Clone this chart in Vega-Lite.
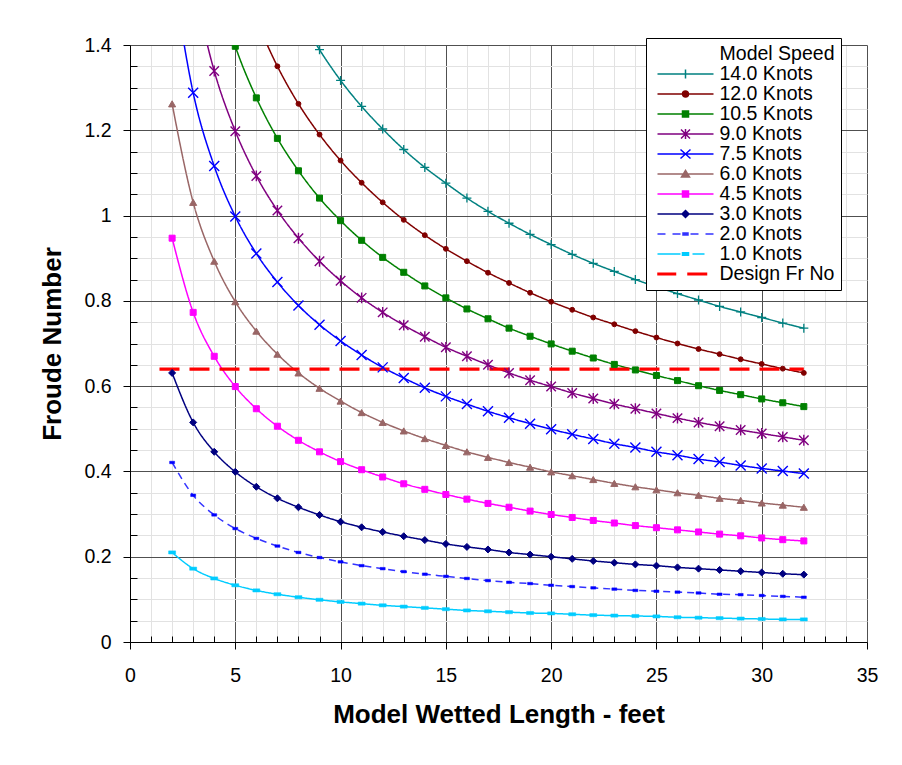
{
"$schema": "https://vega.github.io/schema/vega-lite/v6.json",
"width": 737, "height": 597,
"autosize": {"type": "none"},
"padding": {"left": 130, "top": 45, "right": 35, "bottom": 123},
"background": "white",
"data": {"values": [
{"s":"14.0 Knots","L":8,"fr":1.473},{"s":"14.0 Knots","L":9,"fr":1.389},{"s":"14.0 Knots","L":10,"fr":1.317},{"s":"14.0 Knots","L":11,"fr":1.256},{"s":"14.0 Knots","L":12,"fr":1.203},{"s":"14.0 Knots","L":13,"fr":1.155},{"s":"14.0 Knots","L":14,"fr":1.113},{"s":"14.0 Knots","L":15,"fr":1.076},{"s":"14.0 Knots","L":16,"fr":1.041},{"s":"14.0 Knots","L":17,"fr":1.010},{"s":"14.0 Knots","L":18,"fr":0.982},{"s":"14.0 Knots","L":19,"fr":0.956},{"s":"14.0 Knots","L":20,"fr":0.932},{"s":"14.0 Knots","L":21,"fr":0.909},{"s":"14.0 Knots","L":22,"fr":0.888},{"s":"14.0 Knots","L":23,"fr":0.869},{"s":"14.0 Knots","L":24,"fr":0.850},{"s":"14.0 Knots","L":25,"fr":0.833},{"s":"14.0 Knots","L":26,"fr":0.817},{"s":"14.0 Knots","L":27,"fr":0.802},{"s":"14.0 Knots","L":28,"fr":0.787},{"s":"14.0 Knots","L":29,"fr":0.774},{"s":"14.0 Knots","L":30,"fr":0.761},{"s":"14.0 Knots","L":31,"fr":0.748},{"s":"14.0 Knots","L":32,"fr":0.736},
{"s":"12.0 Knots","L":6,"fr":1.458},{"s":"12.0 Knots","L":7,"fr":1.350},{"s":"12.0 Knots","L":8,"fr":1.262},{"s":"12.0 Knots","L":9,"fr":1.190},{"s":"12.0 Knots","L":10,"fr":1.129},{"s":"12.0 Knots","L":11,"fr":1.077},{"s":"12.0 Knots","L":12,"fr":1.031},{"s":"12.0 Knots","L":13,"fr":0.990},{"s":"12.0 Knots","L":14,"fr":0.954},{"s":"12.0 Knots","L":15,"fr":0.922},{"s":"12.0 Knots","L":16,"fr":0.893},{"s":"12.0 Knots","L":17,"fr":0.866},{"s":"12.0 Knots","L":18,"fr":0.842},{"s":"12.0 Knots","L":19,"fr":0.819},{"s":"12.0 Knots","L":20,"fr":0.798},{"s":"12.0 Knots","L":21,"fr":0.779},{"s":"12.0 Knots","L":22,"fr":0.761},{"s":"12.0 Knots","L":23,"fr":0.745},{"s":"12.0 Knots","L":24,"fr":0.729},{"s":"12.0 Knots","L":25,"fr":0.714},{"s":"12.0 Knots","L":26,"fr":0.700},{"s":"12.0 Knots","L":27,"fr":0.687},{"s":"12.0 Knots","L":28,"fr":0.675},{"s":"12.0 Knots","L":29,"fr":0.663},{"s":"12.0 Knots","L":30,"fr":0.652},{"s":"12.0 Knots","L":31,"fr":0.641},{"s":"12.0 Knots","L":32,"fr":0.631},
{"s":"10.5 Knots","L":4,"fr":1.562},{"s":"10.5 Knots","L":5,"fr":1.397},{"s":"10.5 Knots","L":6,"fr":1.276},{"s":"10.5 Knots","L":7,"fr":1.181},{"s":"10.5 Knots","L":8,"fr":1.105},{"s":"10.5 Knots","L":9,"fr":1.041},{"s":"10.5 Knots","L":10,"fr":0.988},{"s":"10.5 Knots","L":11,"fr":0.942},{"s":"10.5 Knots","L":12,"fr":0.902},{"s":"10.5 Knots","L":13,"fr":0.867},{"s":"10.5 Knots","L":14,"fr":0.835},{"s":"10.5 Knots","L":15,"fr":0.807},{"s":"10.5 Knots","L":16,"fr":0.781},{"s":"10.5 Knots","L":17,"fr":0.758},{"s":"10.5 Knots","L":18,"fr":0.736},{"s":"10.5 Knots","L":19,"fr":0.717},{"s":"10.5 Knots","L":20,"fr":0.699},{"s":"10.5 Knots","L":21,"fr":0.682},{"s":"10.5 Knots","L":22,"fr":0.666},{"s":"10.5 Knots","L":23,"fr":0.651},{"s":"10.5 Knots","L":24,"fr":0.638},{"s":"10.5 Knots","L":25,"fr":0.625},{"s":"10.5 Knots","L":26,"fr":0.613},{"s":"10.5 Knots","L":27,"fr":0.601},{"s":"10.5 Knots","L":28,"fr":0.590},{"s":"10.5 Knots","L":29,"fr":0.580},{"s":"10.5 Knots","L":30,"fr":0.570},{"s":"10.5 Knots","L":31,"fr":0.561},{"s":"10.5 Knots","L":32,"fr":0.552},
{"s":"9.0 Knots","L":3,"fr":1.546},{"s":"9.0 Knots","L":4,"fr":1.339},{"s":"9.0 Knots","L":5,"fr":1.198},{"s":"9.0 Knots","L":6,"fr":1.093},{"s":"9.0 Knots","L":7,"fr":1.012},{"s":"9.0 Knots","L":8,"fr":0.947},{"s":"9.0 Knots","L":9,"fr":0.893},{"s":"9.0 Knots","L":10,"fr":0.847},{"s":"9.0 Knots","L":11,"fr":0.807},{"s":"9.0 Knots","L":12,"fr":0.773},{"s":"9.0 Knots","L":13,"fr":0.743},{"s":"9.0 Knots","L":14,"fr":0.716},{"s":"9.0 Knots","L":15,"fr":0.691},{"s":"9.0 Knots","L":16,"fr":0.670},{"s":"9.0 Knots","L":17,"fr":0.650},{"s":"9.0 Knots","L":18,"fr":0.631},{"s":"9.0 Knots","L":19,"fr":0.614},{"s":"9.0 Knots","L":20,"fr":0.599},{"s":"9.0 Knots","L":21,"fr":0.584},{"s":"9.0 Knots","L":22,"fr":0.571},{"s":"9.0 Knots","L":23,"fr":0.558},{"s":"9.0 Knots","L":24,"fr":0.547},{"s":"9.0 Knots","L":25,"fr":0.536},{"s":"9.0 Knots","L":26,"fr":0.525},{"s":"9.0 Knots","L":27,"fr":0.515},{"s":"9.0 Knots","L":28,"fr":0.506},{"s":"9.0 Knots","L":29,"fr":0.497},{"s":"9.0 Knots","L":30,"fr":0.489},{"s":"9.0 Knots","L":31,"fr":0.481},{"s":"9.0 Knots","L":32,"fr":0.473},
{"s":"7.5 Knots","L":2,"fr":1.578},{"s":"7.5 Knots","L":3,"fr":1.288},{"s":"7.5 Knots","L":4,"fr":1.116},{"s":"7.5 Knots","L":5,"fr":0.998},{"s":"7.5 Knots","L":6,"fr":0.911},{"s":"7.5 Knots","L":7,"fr":0.844},{"s":"7.5 Knots","L":8,"fr":0.789},{"s":"7.5 Knots","L":9,"fr":0.744},{"s":"7.5 Knots","L":10,"fr":0.706},{"s":"7.5 Knots","L":11,"fr":0.673},{"s":"7.5 Knots","L":12,"fr":0.644},{"s":"7.5 Knots","L":13,"fr":0.619},{"s":"7.5 Knots","L":14,"fr":0.596},{"s":"7.5 Knots","L":15,"fr":0.576},{"s":"7.5 Knots","L":16,"fr":0.558},{"s":"7.5 Knots","L":17,"fr":0.541},{"s":"7.5 Knots","L":18,"fr":0.526},{"s":"7.5 Knots","L":19,"fr":0.512},{"s":"7.5 Knots","L":20,"fr":0.499},{"s":"7.5 Knots","L":21,"fr":0.487},{"s":"7.5 Knots","L":22,"fr":0.476},{"s":"7.5 Knots","L":23,"fr":0.465},{"s":"7.5 Knots","L":24,"fr":0.456},{"s":"7.5 Knots","L":25,"fr":0.446},{"s":"7.5 Knots","L":26,"fr":0.438},{"s":"7.5 Knots","L":27,"fr":0.429},{"s":"7.5 Knots","L":28,"fr":0.422},{"s":"7.5 Knots","L":29,"fr":0.414},{"s":"7.5 Knots","L":30,"fr":0.407},{"s":"7.5 Knots","L":31,"fr":0.401},{"s":"7.5 Knots","L":32,"fr":0.395},
{"s":"6.0 Knots","L":2,"fr":1.262},{"s":"6.0 Knots","L":3,"fr":1.031},{"s":"6.0 Knots","L":4,"fr":0.893},{"s":"6.0 Knots","L":5,"fr":0.798},{"s":"6.0 Knots","L":6,"fr":0.729},{"s":"6.0 Knots","L":7,"fr":0.675},{"s":"6.0 Knots","L":8,"fr":0.631},{"s":"6.0 Knots","L":9,"fr":0.595},{"s":"6.0 Knots","L":10,"fr":0.565},{"s":"6.0 Knots","L":11,"fr":0.538},{"s":"6.0 Knots","L":12,"fr":0.515},{"s":"6.0 Knots","L":13,"fr":0.495},{"s":"6.0 Knots","L":14,"fr":0.477},{"s":"6.0 Knots","L":15,"fr":0.461},{"s":"6.0 Knots","L":16,"fr":0.446},{"s":"6.0 Knots","L":17,"fr":0.433},{"s":"6.0 Knots","L":18,"fr":0.421},{"s":"6.0 Knots","L":19,"fr":0.410},{"s":"6.0 Knots","L":20,"fr":0.399},{"s":"6.0 Knots","L":21,"fr":0.390},{"s":"6.0 Knots","L":22,"fr":0.381},{"s":"6.0 Knots","L":23,"fr":0.372},{"s":"6.0 Knots","L":24,"fr":0.364},{"s":"6.0 Knots","L":25,"fr":0.357},{"s":"6.0 Knots","L":26,"fr":0.350},{"s":"6.0 Knots","L":27,"fr":0.344},{"s":"6.0 Knots","L":28,"fr":0.337},{"s":"6.0 Knots","L":29,"fr":0.332},{"s":"6.0 Knots","L":30,"fr":0.326},{"s":"6.0 Knots","L":31,"fr":0.321},{"s":"6.0 Knots","L":32,"fr":0.316},
{"s":"4.5 Knots","L":2,"fr":0.947},{"s":"4.5 Knots","L":3,"fr":0.773},{"s":"4.5 Knots","L":4,"fr":0.670},{"s":"4.5 Knots","L":5,"fr":0.599},{"s":"4.5 Knots","L":6,"fr":0.547},{"s":"4.5 Knots","L":7,"fr":0.506},{"s":"4.5 Knots","L":8,"fr":0.473},{"s":"4.5 Knots","L":9,"fr":0.446},{"s":"4.5 Knots","L":10,"fr":0.423},{"s":"4.5 Knots","L":11,"fr":0.404},{"s":"4.5 Knots","L":12,"fr":0.387},{"s":"4.5 Knots","L":13,"fr":0.371},{"s":"4.5 Knots","L":14,"fr":0.358},{"s":"4.5 Knots","L":15,"fr":0.346},{"s":"4.5 Knots","L":16,"fr":0.335},{"s":"4.5 Knots","L":17,"fr":0.325},{"s":"4.5 Knots","L":18,"fr":0.316},{"s":"4.5 Knots","L":19,"fr":0.307},{"s":"4.5 Knots","L":20,"fr":0.299},{"s":"4.5 Knots","L":21,"fr":0.292},{"s":"4.5 Knots","L":22,"fr":0.285},{"s":"4.5 Knots","L":23,"fr":0.279},{"s":"4.5 Knots","L":24,"fr":0.273},{"s":"4.5 Knots","L":25,"fr":0.268},{"s":"4.5 Knots","L":26,"fr":0.263},{"s":"4.5 Knots","L":27,"fr":0.258},{"s":"4.5 Knots","L":28,"fr":0.253},{"s":"4.5 Knots","L":29,"fr":0.249},{"s":"4.5 Knots","L":30,"fr":0.244},{"s":"4.5 Knots","L":31,"fr":0.240},{"s":"4.5 Knots","L":32,"fr":0.237},
{"s":"3.0 Knots","L":2,"fr":0.631},{"s":"3.0 Knots","L":3,"fr":0.515},{"s":"3.0 Knots","L":4,"fr":0.446},{"s":"3.0 Knots","L":5,"fr":0.399},{"s":"3.0 Knots","L":6,"fr":0.364},{"s":"3.0 Knots","L":7,"fr":0.337},{"s":"3.0 Knots","L":8,"fr":0.316},{"s":"3.0 Knots","L":9,"fr":0.298},{"s":"3.0 Knots","L":10,"fr":0.282},{"s":"3.0 Knots","L":11,"fr":0.269},{"s":"3.0 Knots","L":12,"fr":0.258},{"s":"3.0 Knots","L":13,"fr":0.248},{"s":"3.0 Knots","L":14,"fr":0.239},{"s":"3.0 Knots","L":15,"fr":0.230},{"s":"3.0 Knots","L":16,"fr":0.223},{"s":"3.0 Knots","L":17,"fr":0.217},{"s":"3.0 Knots","L":18,"fr":0.210},{"s":"3.0 Knots","L":19,"fr":0.205},{"s":"3.0 Knots","L":20,"fr":0.200},{"s":"3.0 Knots","L":21,"fr":0.195},{"s":"3.0 Knots","L":22,"fr":0.190},{"s":"3.0 Knots","L":23,"fr":0.186},{"s":"3.0 Knots","L":24,"fr":0.182},{"s":"3.0 Knots","L":25,"fr":0.179},{"s":"3.0 Knots","L":26,"fr":0.175},{"s":"3.0 Knots","L":27,"fr":0.172},{"s":"3.0 Knots","L":28,"fr":0.169},{"s":"3.0 Knots","L":29,"fr":0.166},{"s":"3.0 Knots","L":30,"fr":0.163},{"s":"3.0 Knots","L":31,"fr":0.160},{"s":"3.0 Knots","L":32,"fr":0.158},
{"s":"2.0 Knots","L":2,"fr":0.421},{"s":"2.0 Knots","L":3,"fr":0.344},{"s":"2.0 Knots","L":4,"fr":0.298},{"s":"2.0 Knots","L":5,"fr":0.266},{"s":"2.0 Knots","L":6,"fr":0.243},{"s":"2.0 Knots","L":7,"fr":0.225},{"s":"2.0 Knots","L":8,"fr":0.210},{"s":"2.0 Knots","L":9,"fr":0.198},{"s":"2.0 Knots","L":10,"fr":0.188},{"s":"2.0 Knots","L":11,"fr":0.179},{"s":"2.0 Knots","L":12,"fr":0.172},{"s":"2.0 Knots","L":13,"fr":0.165},{"s":"2.0 Knots","L":14,"fr":0.159},{"s":"2.0 Knots","L":15,"fr":0.154},{"s":"2.0 Knots","L":16,"fr":0.149},{"s":"2.0 Knots","L":17,"fr":0.144},{"s":"2.0 Knots","L":18,"fr":0.140},{"s":"2.0 Knots","L":19,"fr":0.137},{"s":"2.0 Knots","L":20,"fr":0.133},{"s":"2.0 Knots","L":21,"fr":0.130},{"s":"2.0 Knots","L":22,"fr":0.127},{"s":"2.0 Knots","L":23,"fr":0.124},{"s":"2.0 Knots","L":24,"fr":0.121},{"s":"2.0 Knots","L":25,"fr":0.119},{"s":"2.0 Knots","L":26,"fr":0.117},{"s":"2.0 Knots","L":27,"fr":0.115},{"s":"2.0 Knots","L":28,"fr":0.112},{"s":"2.0 Knots","L":29,"fr":0.111},{"s":"2.0 Knots","L":30,"fr":0.109},{"s":"2.0 Knots","L":31,"fr":0.107},{"s":"2.0 Knots","L":32,"fr":0.105},
{"s":"1.0 Knots","L":2,"fr":0.210},{"s":"1.0 Knots","L":3,"fr":0.172},{"s":"1.0 Knots","L":4,"fr":0.149},{"s":"1.0 Knots","L":5,"fr":0.133},{"s":"1.0 Knots","L":6,"fr":0.121},{"s":"1.0 Knots","L":7,"fr":0.112},{"s":"1.0 Knots","L":8,"fr":0.105},{"s":"1.0 Knots","L":9,"fr":0.099},{"s":"1.0 Knots","L":10,"fr":0.094},{"s":"1.0 Knots","L":11,"fr":0.090},{"s":"1.0 Knots","L":12,"fr":0.086},{"s":"1.0 Knots","L":13,"fr":0.083},{"s":"1.0 Knots","L":14,"fr":0.080},{"s":"1.0 Knots","L":15,"fr":0.077},{"s":"1.0 Knots","L":16,"fr":0.074},{"s":"1.0 Knots","L":17,"fr":0.072},{"s":"1.0 Knots","L":18,"fr":0.070},{"s":"1.0 Knots","L":19,"fr":0.068},{"s":"1.0 Knots","L":20,"fr":0.067},{"s":"1.0 Knots","L":21,"fr":0.065},{"s":"1.0 Knots","L":22,"fr":0.063},{"s":"1.0 Knots","L":23,"fr":0.062},{"s":"1.0 Knots","L":24,"fr":0.061},{"s":"1.0 Knots","L":25,"fr":0.060},{"s":"1.0 Knots","L":26,"fr":0.058},{"s":"1.0 Knots","L":27,"fr":0.057},{"s":"1.0 Knots","L":28,"fr":0.056},{"s":"1.0 Knots","L":29,"fr":0.055},{"s":"1.0 Knots","L":30,"fr":0.054},{"s":"1.0 Knots","L":31,"fr":0.053},{"s":"1.0 Knots","L":32,"fr":0.053},
{"s":"Design Fr No","L":1.4,"fr":0.64},{"s":"Design Fr No","L":32,"fr":0.64}
]},
"encoding": {
  "x": {"field": "L", "type": "quantitative", "scale": {"domain": [0, 35], "nice": false, "zero": false},
    "axis": {"title": "Model Wetted Length - feet",
      "values": [0,1,2,3,4,5,6,7,8,9,10,11,12,13,14,15,16,17,18,19,20,21,22,23,24,25,26,27,28,29,30,31,32,33,34,35],
      "labelExpr": "datum.value % 5 === 0 ? datum.label : ''",
      "grid": true,
      "gridColor": {"condition": {"test": "datum.value % 5 === 0", "value": "#505050"}, "value": "#e2e2e2"},
      "gridWidth": 1,
      "tickSize": {"condition": {"test": "datum.value % 5 === 0", "value": 7}, "value": -6},
      "tickColor": "#000000", "tickWidth": 1,
      "domainColor": "#000000",
      "labelFont": "Liberation Sans", "labelFontSize": 19.5, "labelColor": "#000000", "labelPadding": 17.5,
      "labelFlush": false, "labelOverlap": false,
      "titleFont": "Liberation Sans", "titleFontSize": 26, "titleFontWeight": "bold", "titleColor": "#000000", "titlePadding": 16}},
  "y": {"field": "fr", "type": "quantitative", "scale": {"domain": [0, 1.4], "nice": false},
    "axis": {"title": "Froude Number",
      "values": [0,0.05,0.1,0.15,0.2,0.25,0.3,0.35,0.4,0.45,0.5,0.55,0.6,0.65,0.7,0.75,0.8,0.85,0.9,0.95,1,1.05,1.1,1.15,1.2,1.25,1.3,1.35,1.4],
      "format": "~g",
      "labelExpr": "abs(datum.value * 5 - round(datum.value * 5)) < 0.001 ? datum.label : ''",
      "grid": true,
      "gridColor": {"condition": {"test": "abs(datum.value * 5 - round(datum.value * 5)) < 0.001", "value": "#505050"}, "value": "#e2e2e2"},
      "gridWidth": 1,
      "tickSize": {"condition": {"test": "abs(datum.value * 5 - round(datum.value * 5)) < 0.001", "value": 7}, "value": -7},
      "tickColor": "#000000", "tickWidth": 1,
      "domainColor": "#000000",
      "labelFont": "Liberation Sans", "labelFontSize": 19.5, "labelColor": "#000000", "labelPadding": 12,
      "labelFlush": false, "labelOverlap": false,
      "titleFont": "Liberation Sans", "titleFontSize": 26, "titleFontWeight": "bold", "titleColor": "#000000", "titlePadding": 18}}
},
"layer": [
  {"transform": [{"filter": "datum.s !== 'Design Fr No'"}],
   "mark": {"type": "line", "interpolate": "monotone", "strokeWidth": 1.5, "clip": true},
   "encoding": {
     "stroke": {"field": "s", "type": "nominal",
       "scale": {"domain": ["14.0 Knots","12.0 Knots","10.5 Knots","9.0 Knots","7.5 Knots","6.0 Knots","4.5 Knots","3.0 Knots","2.0 Knots","1.0 Knots"],
                 "range": ["#008080","#800000","#008000","#800080","#0000ff","#996666","#ff00ff","#000080","#3333ff","#00ccff"]},
       "legend": null},
     "strokeDash": {"condition": {"test": "datum.s === '2.0 Knots'", "value": [7, 5]}, "value": [1, 0]}
   }},
  {"transform": [{"filter": "datum.s === 'Design Fr No'"}],
   "mark": {"type": "line", "color": "#ff0000", "strokeWidth": 3.3, "strokeDash": [20, 10], "clip": true},
   "encoding": {}},
  {"transform": [{"filter": "datum.s === '14.0 Knots'"}],
   "mark": {"type": "point", "shape": "M-1,0H1M0,-1V1", "size": 81, "filled": false, "color": "#008080", "strokeWidth": 1.3, "opacity": 1, "clip": true}},
  {"transform": [{"filter": "datum.s === '12.0 Knots'"}],
   "mark": {"type": "point", "shape": "circle", "size": 24, "filled": true, "color": "#800000", "stroke": "#800000", "strokeWidth": 1, "opacity": 1, "clip": true}},
  {"transform": [{"filter": "datum.s === '10.5 Knots'"}],
   "mark": {"type": "point", "shape": "square", "size": 36, "filled": true, "color": "#008000", "stroke": "#008000", "strokeWidth": 1, "opacity": 1, "clip": true}},
  {"transform": [{"filter": "datum.s === '9.0 Knots'"}],
   "mark": {"type": "point", "shape": "M-1,-1L1,1M-1,1L1,-1M0,-1.15V1.15", "size": 90, "filled": false, "color": "#800080", "strokeWidth": 1.4, "opacity": 1, "clip": true}},
  {"transform": [{"filter": "datum.s === '7.5 Knots'"}],
   "mark": {"type": "point", "shape": "M-1,-1L1,1M-1,1L1,-1", "size": 100, "filled": false, "color": "#0000ff", "strokeWidth": 1.4, "opacity": 1, "clip": true}},
  {"transform": [{"filter": "datum.s === '6.0 Knots'"}],
   "mark": {"type": "point", "shape": "triangle-up", "size": 50, "filled": true, "color": "#996666", "stroke": "#996666", "strokeWidth": 1, "opacity": 1, "clip": true}},
  {"transform": [{"filter": "datum.s === '4.5 Knots'"}],
   "mark": {"type": "point", "shape": "square", "size": 36, "filled": true, "color": "#ff00ff", "stroke": "#ff00ff", "strokeWidth": 1, "opacity": 1, "clip": true}},
  {"transform": [{"filter": "datum.s === '3.0 Knots'"}],
   "mark": {"type": "point", "shape": "diamond", "size": 49, "filled": true, "color": "#000080", "stroke": "#000080", "strokeWidth": 1, "opacity": 1, "clip": true}},
  {"transform": [{"filter": "datum.s === '2.0 Knots'"}],
   "mark": {"type": "point", "shape": "M-1,-0.5H1V0.5H-1Z", "size": 25, "filled": true, "color": "#0000ff", "stroke": "#0000ff", "strokeWidth": 0.5, "opacity": 1, "clip": true}},
  {"transform": [{"filter": "datum.s === '1.0 Knots'"}],
   "mark": {"type": "point", "shape": "M-1,-0.45H1V0.45H-1Z", "size": 49, "filled": true, "color": "#00ccff", "stroke": "#00ccff", "strokeWidth": 0.5, "opacity": 1, "clip": true}},
  {"transform": [{"filter": "false"}],
   "mark": {"type": "point", "filled": true, "opacity": 1},
   "encoding": {
     "color": {"field": "s", "type": "nominal",
       "scale": {"domain": ["14.0 Knots","12.0 Knots","10.5 Knots","9.0 Knots","7.5 Knots","6.0 Knots","4.5 Knots","3.0 Knots","2.0 Knots","1.0 Knots","Design Fr No"],
                 "range": ["#008080","#800000","#008000","#800080","#0000ff","#996666","#ff00ff","#000080","#3333ff","#00ccff","#ff0000"]},
       "legend": {"title": "Model Speed", "orient": "none", "legendX": 516, "legendY": -7,
         "titleFont": "Liberation Sans", "titleFontSize": 19.5, "titleFontWeight": "normal", "titleColor": "#000000",
         "titleAnchor": "end", "titlePadding": 0,
         "labelFont": "Liberation Sans", "labelFontSize": 19.5, "labelColor": "#000000", "labelOffset": 47, "labelLimit": 300,
         "symbolSize": 324, "symbolStrokeWidth": 1.5, "symbolOpacity": 1,
         "rowPadding": -0.5, "padding": 6.5,
         "fillColor": "#ffffff", "strokeColor": "#000000",
         "encode": {"symbols": {"update": {"fill": {"scale": "color", "field": "value"}, "stroke": {"scale": "color", "field": "value"}, "strokeWidth": {"value": 1.5}}}}}},
     "shape": {"field": "s", "type": "nominal",
       "scale": {"domain": ["14.0 Knots","12.0 Knots","10.5 Knots","9.0 Knots","7.5 Knots","6.0 Knots","4.5 Knots","3.0 Knots","2.0 Knots","1.0 Knots","Design Fr No"],
                 "range": [
                   "M-0.556,0H5.667M2.556,-0.5V0.5",
                   "M2.222,0A0.333,0.333,0,1,0,2.889,0A0.333,0.333,0,1,0,2.222,0ZM-0.556,0H5.667",
                   "M-0.556,0H5.667M2.222,-0.333H2.889V0.333H2.222Z",
                   "M-0.556,0H5.667M2.056,-0.5L3.056,0.5M2.056,0.5L3.056,-0.5M2.556,-0.556V0.556",
                   "M-0.556,0H5.667M2.0,-0.5L3.111,0.5M2.0,0.5L3.111,-0.5",
                   "M-0.556,0H5.667M2.556,-0.389L3.0,0.333H2.111Z",
                   "M-0.556,0H5.667M2.222,-0.333H2.889V0.333H2.222Z",
                   "M-0.556,0H5.667M2.556,-0.389L2.944,0L2.556,0.389L2.167,0Z",
                   "M-0.556,0H0.333M1.111,0H2.0M3.111,0H4.0M4.778,0H5.667M2.278,-0.111H2.833V0.111H2.278Z",
                   "M-0.556,0H2.0M3.333,0H4.667M2.222,-0.133H2.889V0.133H2.222Z",
                   "M-0.5,-0.089H1.444V0.089H-0.5ZM2.833,-0.089H4.889V0.089H2.833Z"
                 ]}}
   }}
],
"config": {
  "font": "Liberation Sans",
  "view": {"stroke": null}
}
}
